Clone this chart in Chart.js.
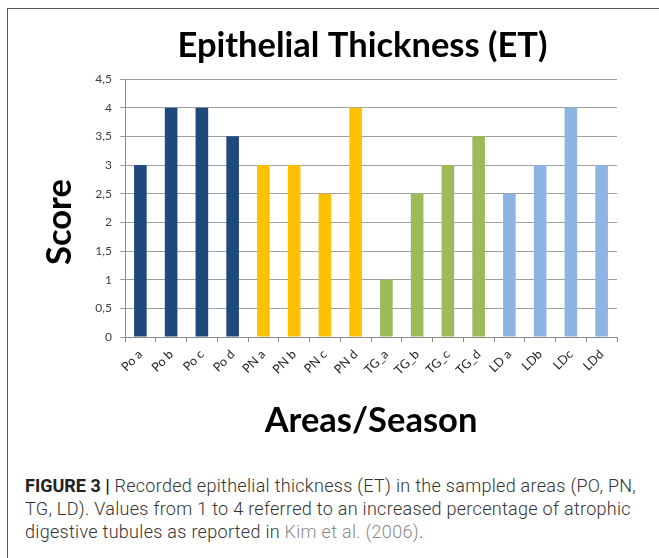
<!DOCTYPE html>
<html>
<head>
<meta charset="utf-8">
<script src="https://cdn.jsdelivr.net/npm/chart.js@4/dist/chart.umd.min.js"></script>
<style>
  html, body { margin: 0; padding: 0; background: #fff; }
  body { width: 659px; height: 558px; position: relative; overflow: hidden; }
  #frame {
    position: absolute; left: 7px; top: 8px; width: 700px; height: 600px;
    border-left: 1.5px solid #555; border-top: 1.5px solid #555;
  }
  #c { position: absolute; left: 0; top: 0; }
  #caption {
    position: absolute; left: 25px; top: 474px; width: 630px;
    font-family: Roboto, "Liberation Sans", sans-serif; font-weight: 300;
    font-size: 18px; letter-spacing: 0.3px; line-height: 23px; color: #333; white-space: nowrap;
  }
  #caption b { font-weight: 700; color: #222; letter-spacing: 0; }
  #caption .ref { color: #8a8a8a; }
</style>
</head>
<body>
<div id="frame"></div>
<canvas id="c" width="659" height="460"></canvas>
<div id="caption">
  <b>FIGURE 3 |</b> Recorded epithelial thickness (ET) in the sampled areas (PO, PN,<br>
  TG, LD). Values from 1 to 4 referred to an increased percentage of atrophic<br>
  digestive tubules as reported in <span class="ref">Kim et al. (2006)</span>.
</div>
<script>
// Sampling areas / seasons and their epithelial thickness scores
const categories = ['Po a', 'Po b', 'Po c', 'Po d',
                    'PN a', 'PN b', 'PN c', 'PN d',
                    'TG_a', 'TG_b', 'TG_c', 'TG_d',
                    'LD a', 'LDb', 'LDc', 'LDd'];
const scores = [3, 4, 4, 3.5,
                3, 3, 2.5, 4,
                1, 2.5, 3, 3.5,
                2.5, 3, 4, 3];
const yTickLabels = ['0', '0,5', '1', '1,5', '2', '2,5', '3', '3,5', '4', '4,5'];

// One colour per area (four seasons each)
const areaColors = ['#1F497D', '#FFC000', '#9BBB59', '#8DB4E2'];
const barColors = categories.map((_, i) => areaColors[Math.floor(i / 4)]);

const FONT = 'Lato, "Open Sans", sans-serif';
const BIG = 34.5;

// Vertical axis caption, set slightly below the plot's middle
const yAxisCaption = {
  id: 'yAxisCaption',
  afterDraw(chart) {
    const { ctx, chartArea } = chart;
    ctx.save();
    ctx.translate(chartArea.left - 65, (chartArea.top + chartArea.bottom) / 2 + 14);
    ctx.rotate(-Math.PI / 2);
    ctx.font = 'bold ' + BIG + 'px ' + FONT;
    ctx.fillStyle = '#000';
    ctx.textAlign = 'center';
    ctx.textBaseline = 'middle';
    ctx.fillText('Score', 0, 0);
    ctx.restore();
  }
};

function draw() {
  Chart.defaults.font.family = FONT;
  new Chart(document.getElementById('c'), {
    type: 'bar',
    data: {
      labels: categories,
      datasets: [{
        data: scores,
        backgroundColor: barColors,
        borderWidth: 0,
        categoryPercentage: 1,
        barPercentage: 0.41
      }]
    },
    options: {
      responsive: false,
      animation: false,
      layout: { padding: { left: 66, right: 0, top: 8, bottom: 0 } },
      plugins: {
        legend: { display: false },
        tooltip: { enabled: false },
        title: {
          display: true,
          text: 'Epithelial Thickness (ET)',
          color: '#000',
          font: { size: BIG, weight: 'bold', family: FONT },
          padding: { top: 17, bottom: 12.6 }
        }
      },
      scales: {
        x: {
          grid: { drawOnChartArea: false, drawTicks: true, tickLength: 5, color: '#8c8c8c', offset: true },
          border: { color: '#8c8c8c' },
          ticks: { minRotation: 45, maxRotation: 45, autoSkip: false, padding: 5,
                   color: '#262626', font: { size: 12.5 } },
          title: { display: true, text: 'Areas/Season', color: '#000',
                   font: { size: BIG, weight: 'bold', family: FONT },
                   padding: { top: 0, bottom: 18.5 } },
          afterFit(s) { s.height = 123; }
        },
        y: {
          min: 0, max: 4.5,
          grid: { color: '#a0a0a0', tickLength: 5 },
          border: { color: '#8c8c8c' },
          ticks: { stepSize: 0.5, padding: 8, color: '#404040', font: { size: 12 },
                   callback: (v, i) => yTickLabels[i] },
          afterFit(s) { s.width = 59; }
        },
        // empty margin on the right of the plot
        yRight: {
          position: 'right',
          display: true,
          grid: { display: false, drawTicks: false },
          border: { display: false },
          ticks: { display: false },
          afterFit(s) { s.width = 42; }
        }
      }
    },
    plugins: [yAxisCaption]
  });
}

Promise.all([
  document.fonts.load('bold 33px Lato'),
  document.fonts.load('12px Lato'),
  document.fonts.load('300 17px Roboto')
]).then(draw, draw);
</script>
</body>
</html>
